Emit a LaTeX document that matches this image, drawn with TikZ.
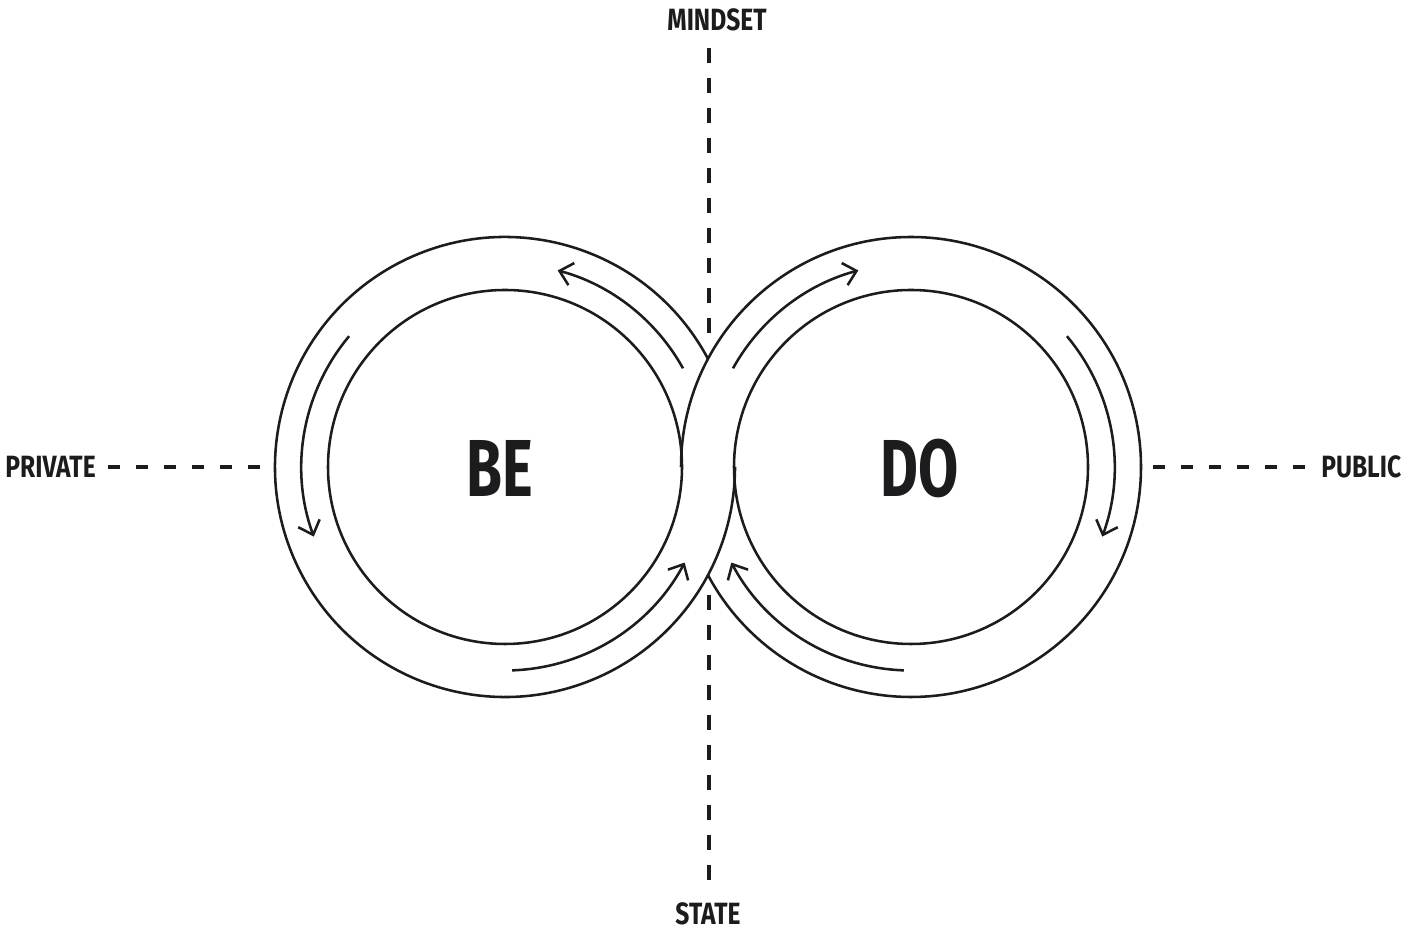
\documentclass[tikz,border=0pt]{standalone}
\usepackage{fontspec}
\setmainfont{Fira Sans}[FakeStretch=0.8]
\newfontfamily\narrowfont{Fira Sans}[FakeStretch=0.72]
\usepackage{tikz}
\usetikzlibrary{arrows.meta,positioning}
\definecolor{inkc}{RGB}{28,28,30}

\begin{document}
\begin{tikzpicture}[x=0.2mm,y=0.2mm,inkc,line width=1.45pt,>={Straight Barb[length=7pt,width=13pt]},
  axislab/.style={font=\fontsize{17.5}{17.5}\selectfont\bfseries,inner sep=0pt},
  bigword/.style={font=\narrowfont\fontsize{46}{46}\selectfont\bfseries,inner sep=0pt},
  hguide/.style={line width=1.8pt,dash pattern=on 2.4mm off 3.2mm},
  vguide/.style={line width=1.8pt,dash pattern=on 3mm off 3mm},
  flow/.style={->,line width=1.45pt}]
\useasboundingbox (0,0) rectangle (1406,931);
% loop centres
\coordinate (be) at (505,464);
\coordinate (do) at (911,464);
% axis labels
\node[axislab,anchor=east] (private) at (97,464) {PRIVATE};
\node[axislab,anchor=west] (public) at (1320,464) {PUBLIC};
\node[axislab] (mindset) at (717,911) {MINDSET};
\node[axislab] (state) at (708,17) {STATE};
% dashed axes, ending at the ribbon
\coordinate (privend) at (268,464);
\coordinate (pubend) at (1146,464);
\coordinate (topcusp) at (709,596);
\coordinate (botcusp) at (709,336);
\draw[hguide] (private.east) ++(11,0) -- (privend);
\draw[hguide] (public.west) ++(-15,0) -- (pubend);
\draw[vguide] (709,883) -- (topcusp);
\draw[vguide] (709,51) -- (botcusp);
% inner rings
\draw (be) circle[radius=177];
\draw (do) circle[radius=177];
% outer rings, meeting at the two cusps
\draw (be) ++(28:230) arc[start angle=28,end angle=360,radius=230];
\draw (do) ++(180:230) arc[start angle=180,end angle=-152,radius=230];
% flow arrows in the ribbon
\foreach \a/\b in {29/75,140/200,272/332}
  \draw[flow] (be) ++(\a:203.5) arc[start angle=\a,end angle=\b,radius=203.5];
\foreach \a/\b in {151/105,40/-20,268/208}
  \draw[flow] (do) ++(\a:203.5) arc[start angle=\a,end angle=\b,radius=203.5];
% words in the loops
\node[bigword] (beword) at (500,462) {BE};
\node[bigword] (doword) at (920,462) {DO};
\end{tikzpicture}
\end{document}
